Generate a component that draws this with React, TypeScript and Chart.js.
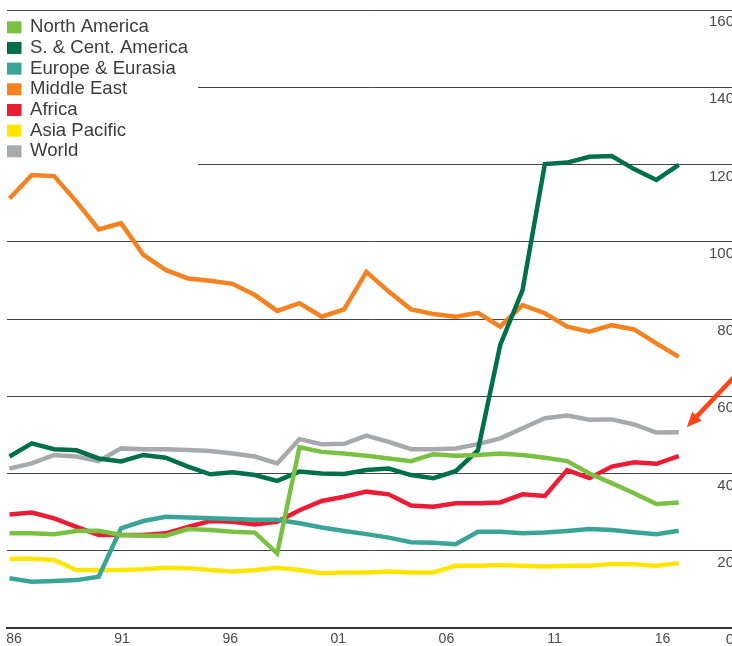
import React, { useEffect, useRef } from 'react';
import { Chart, registerables } from 'chart.js';

Chart.register(...registerables);

const FONT = '"Liberation Sans", Arial, Helvetica, sans-serif';

const years = [
  1987, 1988, 1989, 1990, 1991, 1992, 1993, 1994, 1995, 1996, 1997,
  1998, 1999, 2000, 2001, 2002, 2003, 2004, 2005, 2006, 2007, 2008,
  2009, 2010, 2011, 2012, 2013, 2014, 2015, 2016, 2017,
];

const labelYears = [1986, 1991, 1996, 2001, 2006, 2011, 2016];
const yTicks = [0, 20, 40, 60, 80, 100, 120, 140, 160];

const northAmerica = [
  24.5, 24.5, 24.3, 25.1, 25.2, 24.1, 23.9, 23.9, 25.6, 25.4, 24.9,
  24.7, 19.3, 46.8, 45.6, 45.2, 44.6, 43.9, 43.2, 45.0, 44.6, 44.8,
  45.2, 44.8, 44.1, 43.2, 40.0, 37.5, 34.9, 32.1, 32.5,
];
const southCentAmerica = [
  44.4, 47.8, 46.3, 46.0, 43.9, 43.1, 44.8, 44.1, 41.8, 39.8, 40.3,
  39.6, 38.1, 40.5, 40.0, 39.9, 40.9, 41.3, 39.6, 38.8, 40.6, 46.0,
  73.3, 87.5, 120.1, 120.5, 122.0, 122.2, 118.8, 116.0, 119.9,
];
const europeEurasia = [
  12.9, 12.0, 12.2, 12.4, 13.3, 25.8, 27.7, 28.8, 28.6, 28.4, 28.2,
  28.0, 28.0, 27.1, 26.0, 25.1, 24.3, 23.4, 22.2, 22.1, 21.7, 24.9,
  24.9, 24.5, 24.7, 25.1, 25.6, 25.4, 24.8, 24.3, 25.2,
];
const middleEast = [
  111.2, 117.3, 117.0, 110.4, 103.2, 104.8, 96.6, 92.7, 90.5, 89.9, 89.1,
  86.2, 82.1, 84.1, 80.6, 82.5, 92.2, 87.1, 82.5, 81.3, 80.6, 81.6,
  78.0, 83.6, 81.5, 78.0, 76.7, 78.4, 77.3, 73.7, 70.2,
];
const africa = [
  29.4, 29.9, 28.4, 26.2, 24.1, 24.1, 24.1, 24.5, 26.2, 27.7, 27.5,
  26.8, 27.5, 30.5, 32.9, 34.0, 35.3, 34.6, 31.7, 31.4, 32.3, 32.3,
  32.5, 34.6, 34.2, 40.9, 38.8, 41.8, 42.9, 42.5, 44.5,
];
const asiaPacific = [
  17.9, 17.9, 17.6, 15.0, 15.0, 15.0, 15.2, 15.6, 15.5, 15.0, 14.6,
  15.0, 15.6, 15.0, 14.2, 14.4, 14.4, 14.6, 14.4, 14.4, 16.1, 16.1,
  16.3, 16.1, 15.9, 16.1, 16.1, 16.6, 16.5, 16.1, 16.8,
];
const world = [
  41.3, 42.6, 44.8, 44.4, 43.2, 46.5, 46.3, 46.3, 46.1, 45.8, 45.2,
  44.4, 42.6, 48.9, 47.6, 47.7, 49.8, 48.2, 46.3, 46.3, 46.5, 47.6,
  49.1, 51.7, 54.3, 55.0, 53.9, 54.0, 52.7, 50.6, 50.7,
];

const seriesNames = [
  'North America',
  'S. & Cent. America',
  'Europe & Eurasia',
  'Middle East',
  'Africa',
  'Asia Pacific',
  'World',
];
const seriesValues = [northAmerica, southCentAmerica, europeEurasia, middleEast, africa, asiaPacific, world];
const seriesColors = ['#7AC143', '#00704A', '#3AA597', '#F58220', '#ED1C35', '#FFE500', '#A8A9AD'];

const legendPlugin = {
  id: 'boxLegend',
  beforeDatasetsDraw(chart: any) {
    const ctx = chart.ctx;
    ctx.save();
    ctx.fillStyle = '#ffffff';
    ctx.fillRect(0, 12, 198, 157);
    ctx.font = `18.6px ${FONT}`;
    ctx.textBaseline = 'middle';
    ctx.textAlign = 'left';
    chart.data.datasets.forEach((ds: any, i: number) => {
      const cy = 27.3 + i * 20.67;
      ctx.fillStyle = ds.borderColor;
      ctx.fillRect(7, cy - 6, 14.5, 12);
      ctx.fillStyle = '#3c3c3c';
      ctx.fillText(ds.label, 30, cy);
    });
    ctx.restore();
  },
};

const arrowPlugin = {
  id: 'pointerArrow',
  afterDatasetsDraw(chart: any) {
    const xs = chart.scales.x;
    const ys = chart.scales.y;
    const n = years.length - 1;
    const tipX = xs.getPixelForValue(years[n]) + 8;
    const tipY = ys.getPixelForValue(world[n]) - 5;
    const dx = 1, dy = -1.06;
    const len = Math.hypot(dx, dy);
    const ux = dx / len, uy = dy / len;
    const ctx = chart.ctx;
    ctx.save();
    ctx.strokeStyle = '#FF4517';
    ctx.fillStyle = '#FF4517';
    ctx.lineWidth = 4.5;
    ctx.beginPath();
    ctx.moveTo(tipX + ux * 10, tipY + uy * 10);
    ctx.lineTo(tipX + ux * 100, tipY + uy * 100);
    ctx.stroke();
    const hl = 15, hw = 6.5;
    const bx = tipX + ux * hl, by = tipY + uy * hl;
    ctx.beginPath();
    ctx.moveTo(tipX, tipY);
    ctx.lineTo(bx - uy * hw, by + ux * hw);
    ctx.lineTo(bx + uy * hw, by - ux * hw);
    ctx.closePath();
    ctx.fill();
    ctx.restore();
  },
};

export default function App() {
  const canvasRef = useRef<HTMLCanvasElement | null>(null);

  useEffect(() => {
    document.body.style.margin = '0';
    const canvas = canvasRef.current;
    if (!canvas) return;

    const datasets = seriesNames.map((name, i) => ({
      label: name,
      data: years.map((yr, j) => ({ x: yr, y: seriesValues[i][j] })),
      borderColor: seriesColors[i],
      backgroundColor: seriesColors[i],
      borderWidth: 4.5,
      pointRadius: 0,
      tension: 0,
      fill: false,
    }));

    const chart = new Chart(canvas, {
      type: 'line',
      data: { datasets },
      plugins: [legendPlugin, arrowPlugin],
      options: {
        animation: false,
        responsive: false,
        devicePixelRatio: 1,
        layout: { padding: { left: 7, top: 10, right: 26, bottom: 0 } },
        plugins: {
          legend: { display: false },
          tooltip: { enabled: false },
        },
        scales: {
          x: {
            type: 'linear',
            display: false,
            min: 1986.888,
            max: 2019.479,
          },
          xl: {
            type: 'linear',
            position: 'bottom',
            min: 1985.676,
            max: 2019.302,
            afterBuildTicks: (s: any) => {
              s.ticks = labelYears.map((v) => ({ value: v }));
            },
            afterFit: (s: any) => {
              s.height = 18;
            },
            ticks: {
              autoSkip: false,
              maxRotation: 0,
              padding: 3,
              color: '#4a4a4a',
              font: { family: FONT, size: 14 },
              callback: (v: any) => String(Number(v) % 100).padStart(2, '0'),
            },
            grid: { display: false, drawTicks: false },
            border: { display: true, color: '#333333', width: 2 },
          },
          y: {
            position: 'right',
            min: 0,
            max: 160,
            afterBuildTicks: (s: any) => {
              s.ticks = yTicks.map((v) => ({ value: v }));
            },
            afterFit: (s: any) => {
              s.width = 0;
            },
            ticks: {
              mirror: true,
              padding: 0,
              labelOffset: 12,
              color: '#4a4a4a',
              font: { family: FONT, size: 15 },
              callback: (v: any) => String(v),
            },
            grid: {
              drawTicks: false,
              lineWidth: 1,
              color: (c: any) => (c.tick && c.tick.value === 0 ? 'rgba(0,0,0,0)' : '#444444'),
            },
            border: { display: false },
          },
        },
      },
    });

    return () => {
      chart.destroy();
    };
  }, []);

  return (
    <div style={{ width: 732, height: 646, overflow: 'hidden', position: 'relative', background: '#fff' }}>
      <canvas ref={canvasRef} width={760} height={646} style={{ display: 'block' }} />
    </div>
  );
}
